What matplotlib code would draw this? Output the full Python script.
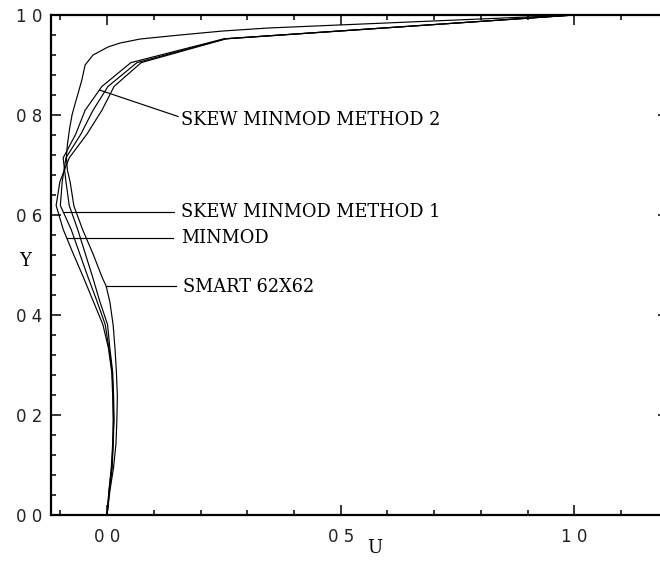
import numpy as np
import matplotlib
matplotlib.use("Agg")
import matplotlib.pyplot as plt
from matplotlib.ticker import MultipleLocator

# ---- data ----
y_coarse = [1 - k / 21 for k in range(22)]

u_minmod = [1.0, 0.255, 0.073, 0.015, -0.011, -0.043, -0.081, -0.101, -0.109, -0.094,
            -0.073, -0.051, -0.030, -0.009, 0.003, 0.010, 0.012, 0.013, 0.012, 0.009,
            0.004, 0.0]
u_skew1 = [1.0, 0.253, 0.064, 0.002, -0.030, -0.056, -0.088, -0.096, -0.100, -0.077,
           -0.059, -0.041, -0.022, -0.004, 0.004, 0.011, 0.013, 0.014, 0.013, 0.010,
           0.004, 0.0]
u_skew2 = [1.0, 0.250, 0.051, -0.011, -0.047, -0.067, -0.094, -0.088, -0.081, -0.063,
           -0.047, -0.031, -0.016, 0.001, 0.006, 0.012, 0.014, 0.015, 0.013, 0.011,
           0.005, 0.0]

y_smart = [1.0, 0.974, 0.968, 0.960, 0.952, 0.944, 0.936, 0.920, 0.900, 0.870, 0.850,
           0.824, 0.800, 0.774, 0.740, 0.716, 0.690, 0.666, 0.618, 0.570, 0.522,
           0.474, 0.458, 0.426, 0.380, 0.332, 0.286, 0.238, 0.190, 0.142, 0.096, 0.048, 0.0]
u_smart = [1.0, 0.345, 0.248, 0.156, 0.071, 0.028, 0.002, -0.030, -0.047, -0.054, -0.060,
           -0.068, -0.075, -0.080, -0.085, -0.087, -0.085, -0.079, -0.071, -0.052,
           -0.030, -0.010, -0.002, 0.006, 0.013, 0.017, 0.020, 0.022, 0.021, 0.019, 0.014,
           0.006, 0.0]

labels = ["SKEW MINMOD METHOD 2", "SKEW MINMOD METHOD 1", "MINMOD", "SMART 62X62"]
x_ticklabels = ["0 0", "0 5", "1 0"]
y_ticklabels = ["0 0", "0 2", "0 4", "0 6", "0 8", "1 0"]

# ---- figure ----
W, H = 660, 563
fig = plt.figure(figsize=(W / 100, H / 100), dpi=100)
ax_left, ax_right, ax_bottom, ax_top = 51, 667.8, 515, 15
ax = fig.add_axes([ax_left / W, (H - ax_bottom) / H, (ax_right - ax_left) / W,
                   (ax_bottom - ax_top) / H])

lw = 0.85
ax.plot(u_skew2, y_coarse, color="black", lw=lw)
ax.plot(u_skew1, y_coarse, color="black", lw=lw)
ax.plot(u_minmod, y_coarse, color="black", lw=lw)
ax.plot(u_smart, y_smart, color="black", lw=lw)

ax.set_xlim(-0.12, 1.2)
ax.set_ylim(0.0, 1.0)

# leader lines + labels
def on_curve(yv, uu, yy):
    return float(np.interp(yv, yy[::-1], uu[::-1]))

tfont = dict(family="DejaVu Serif", fontsize=12.8, color="black")
text_x = 0.158
# method 2 (diagonal leader)
ax.plot([on_curve(0.85, u_skew2, y_coarse), 0.152], [0.85, 0.797], color="black", lw=lw)
ax.text(text_x, 0.79, labels[0], va="center", ha="left", **tfont)
# method 1
ax.plot([on_curve(0.606, u_skew1, y_coarse), 0.143], [0.606, 0.606], color="black", lw=lw)
ax.text(text_x, 0.606, labels[1], va="center", ha="left", **tfont)
# minmod
ax.plot([on_curve(0.554, u_minmod, y_coarse), 0.141], [0.554, 0.554], color="black", lw=lw)
ax.text(text_x, 0.554, labels[2], va="center", ha="left", **tfont)
# smart
ax.plot([on_curve(0.458, u_smart, y_smart), 0.148], [0.458, 0.458], color="black", lw=lw)
ax.text(text_x + 0.004, 0.456, labels[3], va="center", ha="left", **tfont)

# ticks
ax.set_xticks([0.0, 0.5, 1.0])
ax.set_xticklabels(x_ticklabels)
ax.set_yticks([0.0, 0.2, 0.4, 0.6, 0.8, 1.0])
ax.set_yticklabels(y_ticklabels)
ax.xaxis.set_minor_locator(MultipleLocator(0.1))
ax.yaxis.set_minor_locator(MultipleLocator(0.04))
ax.tick_params(which="both", direction="in", top=True, right=True, width=1.1,
               colors="black")
ax.tick_params(which="major", length=7.5)
ax.tick_params(which="minor", length=3.8)
ax.tick_params(axis="x", which="major", pad=9, labelsize=12)
ax.tick_params(axis="y", which="major", pad=6.5, labelsize=12)
for lab in ax.get_xticklabels() + ax.get_yticklabels():
    lab.set_color("#222222")

for s in ax.spines.values():
    s.set_linewidth(1.6)

fig.text(25 / W, 1 - 261 / H, "Y", family="DejaVu Serif", fontsize=13,
         ha="center", va="center")
fig.text(375 / W, 1 - 548 / H, "U", family="DejaVu Serif", fontsize=13,
         ha="center", va="center")

fig.savefig("out.png", dpi=100)
